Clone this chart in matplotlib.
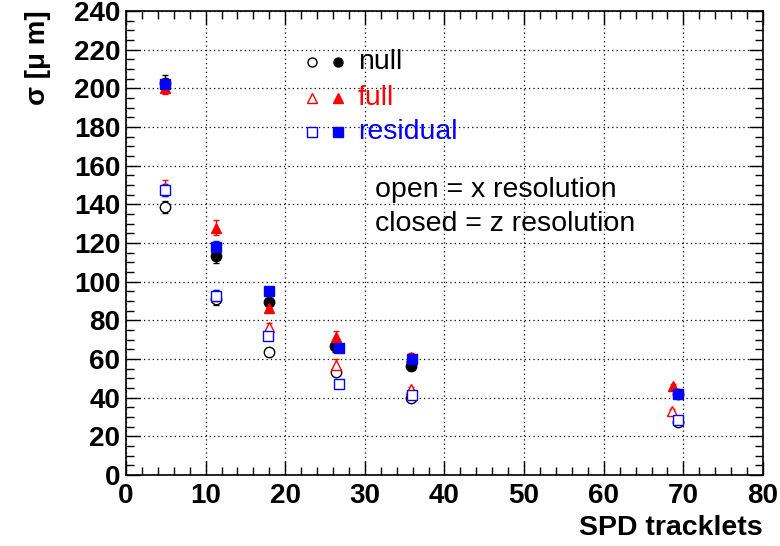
import matplotlib
matplotlib.use("Agg")
import matplotlib.pyplot as plt
from matplotlib.ticker import MultipleLocator

plt.rcParams["font.family"] = ["Liberation Sans", "DejaVu Sans"]

# values
null_closed_x = [4.9, 11.3, 17.9, 26.3, 35.8, 69.3]
null_closed_y = [203, 113.5, 89.5, 66.5, 56.5, 42]
null_closed_err = [4, 4, 3, 3, 2, 2]
null_open_x = [4.9, 11.3, 17.9, 26.4, 35.8, 69.3]
null_open_y = [138.5, 91, 63.5, 53.5, 40, 27.5]
null_open_err = [3, 3, 2, 2, 2, 2]

full_closed_x = [4.9, 11.3, 17.9, 26.4, 35.8, 68.7]
full_closed_y = [200, 128, 86.5, 71.5, 61, 46]
full_closed_err = [3, 4, 2, 3, 2, 1]
full_open_x = [4.9, 11.3, 17.9, 26.4, 35.8, 68.6]
full_open_y = [148.5, 92.5, 76.5, 57, 44.5, 33]
full_open_err = [4, 3, 2, 3, 1, 1]

res_closed_x = [4.9, 11.3, 17.9, 26.7, 35.9, 69.3]
res_closed_y = [202, 118, 95, 65.5, 60, 42]
res_closed_err = [3, 3, 2, 2, 2, 1]
res_open_x = [4.9, 11.3, 17.8, 26.7, 35.9, 69.3]
res_open_y = [147.5, 92.5, 72, 47, 41.5, 28.5]
res_open_err = [3, 3, 2, 1, 1, 1]

series = [
    ("null", "black", "o", null_open_x, null_open_y, null_open_err,
     null_closed_x, null_closed_y, null_closed_err),
    ("full", "red", "^", full_open_x, full_open_y, full_open_err,
     full_closed_x, full_closed_y, full_closed_err),
    ("residual", "blue", "s", res_open_x, res_open_y, res_open_err,
     res_closed_x, res_closed_y, res_closed_err),
]

fig = plt.figure(figsize=(7.8, 5.46), dpi=100)
ax = fig.add_axes([0.1615, 0.130, 0.8167, 0.8498])

for name, color, marker, ox, oy, oe, cx, cy, ce in series:
    ax.errorbar(ox, oy, yerr=oe, fmt=marker, color=color, mfc="white",
                mec=color, ms=7.5, mew=1.0, elinewidth=1.0, capsize=2.5,
                zorder=3)
    ax.errorbar(cx, cy, yerr=ce, fmt=marker, color=color, mfc=color,
                mec=color, ms=7.5, mew=1.0, elinewidth=1.0, capsize=2.5,
                zorder=4)

# hand-made legend, as in the original
legend_rows = [("null", "black", "o", 213.7), ("full", "red", "^", 195.0),
               ("residual", "blue", "s", 177.4)]
for name, color, marker, ypos in legend_rows:
    ax.plot([23.3], [ypos], marker=marker, ls="none", mfc="white", mec=color,
            ms=6.5, mew=1.0, zorder=5)
    ax.plot([26.6], [ypos], marker=marker, ls="none", mfc=color, mec=color,
            ms=6.5, mew=1.0, zorder=5)
    ax.text(29.1, ypos, name, color=color, fontsize=20.5, va="center",
            ha="left", zorder=5)

ax.text(31.3, 147.4, "open = x resolution", fontsize=20.5, va="center", ha="left")
ax.text(31.3, 129.8, "closed = z resolution", fontsize=20.5, va="center", ha="left")

ax.set_xlim(0, 80)
ax.set_ylim(0, 240)
ax.xaxis.set_major_locator(MultipleLocator(10))
ax.xaxis.set_minor_locator(MultipleLocator(2))
ax.yaxis.set_major_locator(MultipleLocator(20))
ax.yaxis.set_minor_locator(MultipleLocator(5))
ax.tick_params(which="both", direction="in", top=True, right=True, width=1.0)
ax.tick_params(which="major", length=10)
ax.tick_params(which="minor", length=5.5)
ax.tick_params(axis="x", which="major", pad=6)
ax.tick_params(axis="y", which="major", pad=4)
for lab in ax.get_xticklabels() + ax.get_yticklabels():
    lab.set_fontsize(20)
    lab.set_fontweight("bold")
ax.grid(True, which="major", color="black", linestyle=(0, (1, 2.5)), linewidth=0.9)
for sp in ax.spines.values():
    sp.set_linewidth(1.2)

fig.text(763 / 780, 1 - 528 / 546, "SPD tracklets", fontsize=20.5,
         fontweight="bold", ha="right", va="center")
fig.text(38 / 780, 1 - 10 / 546, "σ [μ m]", fontsize=20, fontweight="bold",
         rotation=90, ha="center", va="top")

fig.savefig("out.png", dpi=100)
